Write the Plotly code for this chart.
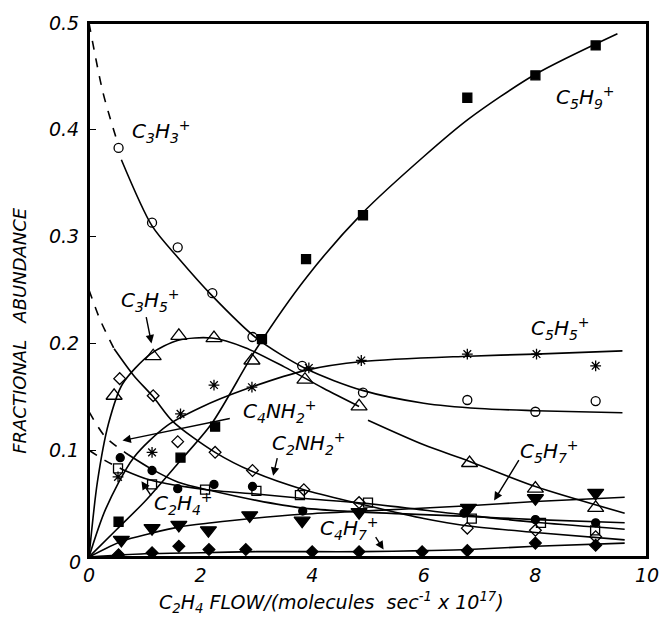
import plotly.graph_objects as go

# ---- data ----
c5h9_x = [0.53, 1.64, 2.26, 3.1, 3.89, 4.91, 6.78, 8.0, 9.08]
c5h9_y = [0.033, 0.093, 0.122, 0.204, 0.279, 0.320, 0.430, 0.451, 0.479]

c3h3_x = [0.53, 1.13, 1.59, 2.21, 2.93, 3.82, 4.91, 6.78, 8.0, 9.08]
c3h3_y = [0.383, 0.313, 0.290, 0.247, 0.206, 0.179, 0.154, 0.147, 0.136, 0.146]

c3h5_x = [0.45, 1.15, 1.61, 2.24, 2.92, 3.87, 4.84, 6.82, 8.0, 9.08]
c3h5_y = [0.151, 0.188, 0.207, 0.205, 0.184, 0.166, 0.141, 0.088, 0.064, 0.046]

c5h5_x = [0.52, 1.13, 1.64, 2.24, 2.92, 3.94, 4.88, 6.78, 8.02, 9.08]
c5h5_y = [0.075, 0.098, 0.134, 0.161, 0.159, 0.177, 0.184, 0.190, 0.190, 0.179]

c4nh2_x = [0.55, 1.15, 1.59, 2.26, 2.93, 3.85, 4.84, 6.78, 8.0, 9.08]
c4nh2_y = [0.167, 0.151, 0.108, 0.098, 0.081, 0.063, 0.051, 0.027, 0.025, 0.019]

c2nh2_x = [0.52, 1.13, 2.08, 3.0, 3.78, 5.0, 6.86, 8.1, 9.07]
c2nh2_y = [0.083, 0.068, 0.063, 0.062, 0.058, 0.051, 0.036, 0.032, 0.025]

c2h4_x = [0.56, 1.13, 1.59, 2.24, 2.93, 3.83, 6.72, 8.0, 9.08]
c2h4_y = [0.093, 0.081, 0.064, 0.068, 0.066, 0.043, 0.041, 0.035, 0.032]

c5h7_x = [0.58, 1.13, 1.61, 2.14, 2.88, 3.82, 4.84, 6.8, 8.0, 9.08]
c5h7_y = [0.016, 0.027, 0.030, 0.025, 0.039, 0.034, 0.042, 0.046, 0.055, 0.060]

c4h7_x = [0.53, 1.13, 1.61, 2.15, 2.81, 4.0, 4.84, 5.97, 6.78, 8.0, 9.08]
c4h7_y = [0.002, 0.004, 0.010, 0.007, 0.007, 0.005, 0.005, 0.005, 0.006, 0.013, 0.011]

# ---- hand-drawn fit curves ----
c5h9_fx = [0, 0.5, 1.0, 1.6, 2.2, 3.0, 3.9, 4.9, 6.0, 6.8, 8.0, 9.47]
c5h9_fy = [0, 0.026, 0.052, 0.088, 0.125, 0.195, 0.262, 0.322, 0.375, 0.41, 0.452, 0.49]

c3h3_dx = [0, 0.25, 0.5]
c3h3_dy = [0.5, 0.435, 0.39]
c3h3_fx = [0.58, 1.13, 1.6, 2.2, 3.0, 3.9, 4.9, 6.0, 7.0, 8.0, 9.56]
c3h3_fy = [0.372, 0.31, 0.28, 0.245, 0.205, 0.176, 0.156, 0.144, 0.139, 0.137, 0.135]

c3h5_fx = [0, 0.15, 0.35, 0.6, 1.1, 1.6, 2.2, 2.8, 3.5, 4.2, 4.84]
c3h5_fy = [0, 0.07, 0.125, 0.162, 0.19, 0.203, 0.205, 0.196, 0.178, 0.158, 0.141]
c3h5_gx = [5.0, 6.0, 6.8, 8.0, 9.6]
c3h5_gy = [0.128, 0.105, 0.09, 0.066, 0.041]

c5h5_fx = [0, 0.3, 0.8, 1.4, 2.0, 2.8, 3.9, 4.9, 6.8, 8.0, 9.56]
c5h5_fy = [0, 0.045, 0.093, 0.123, 0.14, 0.157, 0.175, 0.183, 0.188, 0.19, 0.193]

c4nh2_dx = [0, 0.2, 0.45]
c4nh2_dy = [0.25, 0.222, 0.195]
c4nh2_fx = [0.45, 0.8, 1.15, 1.5, 2.26, 2.93, 3.85, 4.84, 6.0, 6.8, 8.0, 9.6]
c4nh2_fy = [0.195, 0.17, 0.15, 0.127, 0.098, 0.08, 0.063, 0.05, 0.036, 0.029, 0.023, 0.016]

c2h4_dx = [0, 0.3, 0.7]
c2h4_dy = [0.136, 0.112, 0.096]
c2h4_fx = [0.7, 1.1, 1.6, 2.2, 3.0, 3.8, 4.9, 6.8, 8.0, 9.6]
c2h4_fy = [0.096, 0.083, 0.07, 0.062, 0.053, 0.046, 0.042, 0.038, 0.035, 0.032]

c2nh2_dx = [0, 0.3, 0.6]
c2nh2_dy = [0.1, 0.09, 0.082]
c2nh2_fx = [0.6, 1.1, 2.1, 3.0, 3.8, 5.0, 6.8, 8.1, 9.6]
c2nh2_fy = [0.082, 0.072, 0.063, 0.059, 0.055, 0.05, 0.039, 0.032, 0.026]

c5h7_fx = [0, 0.6, 1.1, 1.6, 2.2, 2.9, 3.8, 4.9, 6.8, 8.0, 9.6]
c5h7_fy = [0, 0.015, 0.022, 0.028, 0.032, 0.036, 0.04, 0.043, 0.048, 0.052, 0.056]

c4h7_fx = [0, 1.0, 2.0, 3.0, 4.0, 4.9, 6.0, 6.8, 8.0, 9.6]
c4h7_fy = [0, 0.003, 0.004, 0.005, 0.005, 0.005, 0.006, 0.007, 0.01, 0.013]

x_range = [0, 10]
y_range = [0, 0.5]
x_ticks = [0, 2, 4, 6, 8, 10]
x_tick_text = ["0", "2", "4", "6", "8", "10"]
y_ticks = [0.1, 0.2, 0.3, 0.4, 0.5]
y_tick_text = ["0.1", "0.2", "0.3", "0.4", "0.5"]

x_title = "C<sub>2</sub>H<sub>4</sub> FLOW/(molecules  sec<sup>-1</sup> x 10<sup>17</sup>)"
y_title = "FRACTIONAL   ABUNDANCE"

FONT = "DejaVu Sans"
fig = go.Figure()

def curve(x, y, dash="solid"):
    fig.add_trace(go.Scatter(x=x, y=y, mode="lines",
                             line=dict(color="black", width=1.6, dash=dash, shape="spline", smoothing=0.8),
                             hoverinfo="skip", showlegend=False, cliponaxis=False))

def pts(x, y, symbol, size, lw=1.3):
    fig.add_trace(go.Scatter(x=x, y=y, mode="markers",
                             marker=dict(symbol=symbol, size=size, color="black",
                                         line=dict(color="black", width=lw)),
                             showlegend=False))

curve(c5h9_fx, c5h9_fy)
curve(c3h3_dx, c3h3_dy, "dash")
curve(c3h3_fx, c3h3_fy)
curve(c3h5_fx, c3h5_fy)
curve(c3h5_gx, c3h5_gy)
curve(c5h5_fx, c5h5_fy)
curve(c4nh2_dx, c4nh2_dy, "dash")
curve(c4nh2_fx, c4nh2_fy)
curve(c2h4_dx, c2h4_dy, "dash")
curve(c2h4_fx, c2h4_fy)
curve(c2nh2_dx, c2nh2_dy, "dash")
curve(c2nh2_fx, c2nh2_fy)
curve(c5h7_fx, c5h7_fy)
curve(c4h7_fx, c4h7_fy)

pts(c5h9_x, c5h9_y, "square", 9)
pts(c3h3_x, c3h3_y, "circle-open", 9)
pts(c3h5_x, c3h5_y, "triangle-up-open", 14)
pts(c5h5_x, c5h5_y, "asterisk-open", 9)
pts(c4nh2_x, c4nh2_y, "diamond-open", 9)
pts(c2nh2_x, c2nh2_y, "square-open", 9)
pts(c2h4_x, c2h4_y, "circle", 8)
pts(c5h7_x, c5h7_y, "triangle-down", 14)
pts(c4h7_x, c4h7_y, "diamond", 9)

lab_font = dict(family=FONT, size=20, color="black", style="italic")

def label(text, x, y):
    fig.add_annotation(x=x, y=y, text=text, showarrow=False, font=lab_font)

def arrow(x0, y0, x1, y1):
    fig.add_annotation(x=x1, y=y1, ax=x0, ay=y0, axref="x", ayref="y", text="",
                       showarrow=True, arrowhead=2, arrowsize=1.2, arrowwidth=1.4, arrowcolor="black")

label("C<sub>3</sub>H<sub>3</sub><sup>+</sup>", 1.3, 0.398)
label("C<sub>5</sub>H<sub>9</sub><sup>+</sup>", 8.9, 0.43)
label("C<sub>5</sub>H<sub>5</sub><sup>+</sup>", 8.45, 0.214)
arrow(1.02, 0.226, 1.12, 0.2)
label("C<sub>3</sub>H<sub>5</sub><sup>+</sup>", 1.1, 0.24)
arrow(2.55, 0.13, 0.6, 0.109)
label("C<sub>4</sub>NH<sub>2</sub><sup>+</sup>", 3.42, 0.136)
arrow(3.38, 0.094, 3.3, 0.076)
label("C<sub>2</sub>NH<sub>2</sub><sup>+</sup>", 3.95, 0.106)
arrow(1.13, 0.056, 0.94, 0.071)
label("C<sub>2</sub>H<sub>4</sub><sup>+</sup>", 1.7, 0.05)
arrow(5.12, 0.02, 5.28, 0.007)
label("C<sub>4</sub>H<sub>7</sub><sup>+</sup>", 4.66, 0.027)
arrow(7.72, 0.092, 7.26, 0.053)
label("C<sub>5</sub>H<sub>7</sub><sup>+</sup>", 8.25, 0.099)

axis_font = dict(family=FONT, size=19, color="black", style="italic")
fig.update_layout(
    width=671, height=620,
    margin=dict(l=89, r=16, t=22, b=63),
    paper_bgcolor="white", plot_bgcolor="white",
    font=dict(family=FONT, color="black"),
    xaxis=dict(range=x_range, tickvals=x_ticks, ticktext=x_tick_text, showgrid=False, zeroline=False,
               showline=True, linecolor="black", linewidth=2, mirror=True, ticks="",
               tickfont=axis_font, ticklabeloverflow="allow"),
    yaxis=dict(range=y_range, tickvals=y_ticks, ticktext=y_tick_text, showgrid=False, zeroline=False,
               showline=True, linecolor="black", linewidth=2, mirror=True, ticks="inside", ticklen=7,
               tickcolor="black", tickfont=axis_font, ticklabelstandoff=4),
)
# plot frame drawn in data coordinates (axis limits)
fig.add_shape(type="rect", xref="x", yref="y", x0=x_range[0], y0=y_range[0], x1=x_range[1], y1=y_range[1],
              line=dict(color="black", width=2), layer="above")
fig.add_annotation(x=-0.04, y=-0.034, xref="paper", yref="paper", text="0", showarrow=False,
                   font=axis_font)
fig.add_annotation(x=0.435, y=-0.086, xref="paper", yref="paper", yanchor="middle", text=x_title,
                   showarrow=False, font=dict(family=FONT, size=19, color="black", style="italic"))
fig.add_annotation(x=-0.125, y=0.424, xref="paper", yref="paper", xanchor="center", text=y_title,
                   showarrow=False, textangle=-90,
                   font=dict(family=FONT, size=18, color="black", style="italic"))

fig.write_html("out.html", config={"displayModeBar": False},
               post_script="document.body.style.margin='0';document.body.style.overflow='hidden';")
